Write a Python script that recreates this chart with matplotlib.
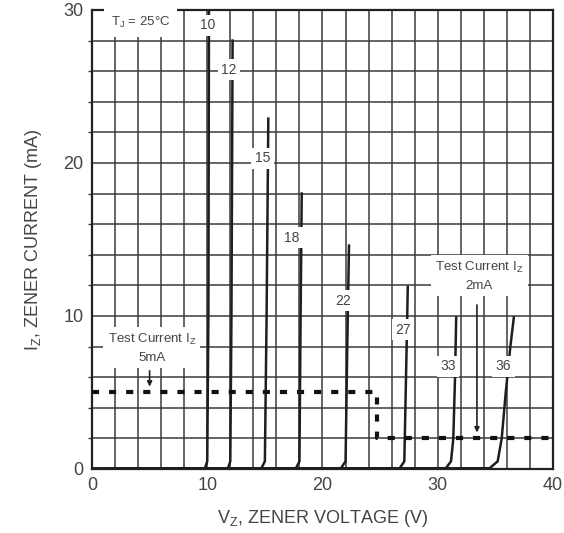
import numpy as np
import matplotlib.pyplot as plt

plt.rcParams['font.family'] = ['Liberation Sans', 'DejaVu Sans']

# zener curves: (voltage V, current mA)
zener_labels = ['10', '12', '15', '18', '22', '27', '33', '36']
zener_v = [
    [0, 9.8, 10.0, 10.1, 10.15],
    [0, 11.8, 12.0, 12.1, 12.2],
    [0, 14.7, 15.0, 15.15, 15.3],
    [0, 17.7, 18.0, 18.1, 18.2],
    [0, 21.6, 22.0, 22.15, 22.3],
    [0, 26.7, 27.1, 27.3, 27.4],
    [0, 30.7, 31.15, 31.35, 31.5, 31.6],
    [0, 34.5, 35.2, 35.55, 35.9, 36.3, 36.6],
]
zener_i = [
    [0, 0.05, 0.5, 10, 30],
    [0, 0.05, 0.5, 10, 28.0],
    [0, 0.05, 0.5, 10, 22.9],
    [0, 0.05, 0.5, 10, 18.0],
    [0, 0.05, 0.5, 8, 14.6],
    [0, 0.05, 0.5, 8, 11.9],
    [0, 0.05, 0.5, 2, 6, 9.9],
    [0, 0.05, 0.5, 2, 5, 8, 9.9],
]
# label positions on each curve
label_x = [10.0, 11.9, 14.8, 17.3, 21.8, 27.0, 30.9, 35.7]
label_y = [29.0, 26.1, 20.3, 15.1, 11.0, 9.1, 6.7, 6.7]

# test current step (5 mA below 25 V, 2 mA above)
test_v = [0, 24.7, 24.7, 40]
test_i = [5, 5, 2, 2]

x_ticks = [0, 10, 20, 30, 40]
y_ticks = [0, 10, 20, 30]

txt = '#444444'

fig = plt.figure(figsize=(5.64, 5.33), dpi=100)
ax = fig.add_axes([0.1631, 0.1201, 0.8174, 0.8612])

ax.set_xlim(0, 40)
ax.set_ylim(0, 30)
ax.set_xticks(x_ticks)
ax.set_yticks(y_ticks)
ax.set_xticks(np.arange(0, 41, 2), minor=True)
ax.set_yticks(np.arange(0, 31, 2), minor=True)
ax.grid(which='both', color='#3a3a3a', lw=1.1)
ax.tick_params(which='major', length=0, labelsize=13, labelcolor=txt, pad=6)
ax.tick_params(which='minor', axis='x', length=0)
ax.tick_params(which='minor', axis='y', length=3, color='#3a3a3a', width=1)
for s in ax.spines.values():
    s.set_linewidth(1.6)
    s.set_color('#222222')
ax.set_axisbelow(True)

ax.set_xlabel('V$_\\mathregular{Z}$, ZENER VOLTAGE (V)', fontsize=13, color=txt, labelpad=10)
ax.set_ylabel('I$_\\mathregular{Z}$, ZENER CURRENT (mA)', fontsize=13, color=txt, labelpad=14)

for v, i in zip(zener_v, zener_i):
    ax.plot(v, i, color='#1e1e1e', lw=1.8, solid_joinstyle='round', zorder=3)

for lab, x, y in zip(zener_labels, label_x, label_y):
    ax.text(x, y, lab, ha='center', va='center', fontsize=10, color=txt, zorder=5,
            bbox=dict(facecolor='white', edgecolor='none', pad=2.5))

ax.plot(test_v, test_i, color='#111111', lw=3, dashes=(1.7, 2.4), zorder=4)

ax.text(4.2, 29.2, 'T$_\\mathregular{J}$ = 25°C', ha='center', va='center', fontsize=9.5,
        color=txt, zorder=5, bbox=dict(facecolor='white', edgecolor='none', pad=5))

ax.text(5.2, 7.9, 'Test Current I$_\\mathregular{Z}$\n5mA', ha='center', va='center',
        fontsize=9.5, color=txt, linespacing=1.5, zorder=5,
        bbox=dict(facecolor='white', edgecolor='none', pad=3))
ax.annotate('', xy=(5.0, 5.2), xytext=(5.0, 6.6),
            arrowprops=dict(arrowstyle='-|>', color='#222222', lw=1.2, mutation_scale=7), zorder=5)

ax.text(33.6, 12.6, 'Test Current I$_\\mathregular{Z}$\n2mA', ha='center', va='center',
        fontsize=9.5, color=txt, linespacing=1.5, zorder=5,
        bbox=dict(facecolor='white', edgecolor='none', pad=3))
ax.annotate('', xy=(33.4, 2.2), xytext=(33.4, 10.9),
            arrowprops=dict(arrowstyle='-|>', color='#222222', lw=1.2, mutation_scale=7), zorder=5)

fig.savefig('out.png', dpi=100)
